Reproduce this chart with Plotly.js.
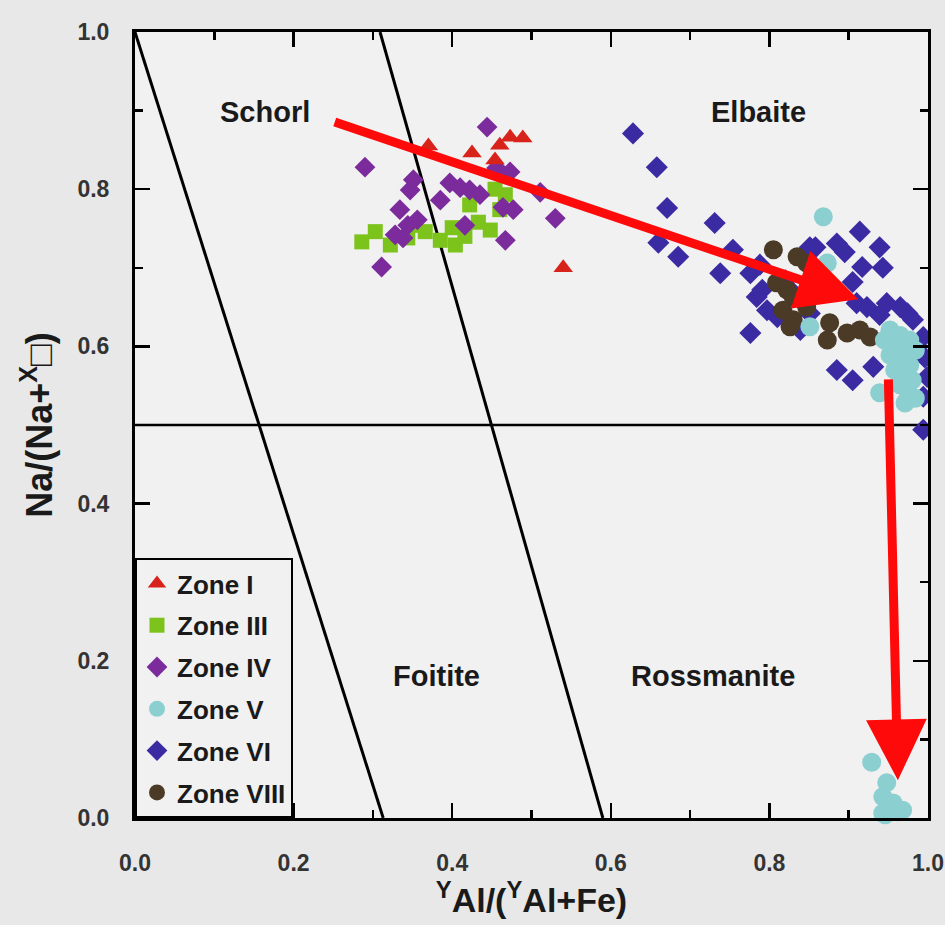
<!DOCTYPE html>
<html>
<head>
<meta charset="utf-8">
<script src="https://cdn.plot.ly/plotly-3.0.1.min.js"></script>
<style>html,body{margin:0;padding:0;background:#e8e8e8;}#chart{width:945px;height:925px;}</style>
</head>
<body>
<div id="chart"></div>
<script>
// ---- data ----
const zone1X = [0.370, 0.425, 0.454, 0.460, 0.473, 0.489, 0.540];
const zone1Y = [0.855, 0.846, 0.837, 0.856, 0.866, 0.865, 0.700];

const zone3X = [0.286, 0.303, 0.322, 0.344, 0.353, 0.366, 0.385, 0.400, 0.404, 0.416, 0.422, 0.433, 0.448, 0.454, 0.460, 0.467];
const zone3Y = [0.733, 0.746, 0.729, 0.738, 0.754, 0.746, 0.735, 0.751, 0.729, 0.740, 0.780, 0.758, 0.748, 0.800, 0.774, 0.793];

const zone4X = [0.290, 0.347, 0.351, 0.397, 0.410, 0.422, 0.435, 0.444, 0.456, 0.473, 0.464, 0.477, 0.416, 0.344, 0.356, 0.338, 0.467, 0.311, 0.530, 0.511, 0.328, 0.334, 0.385];
const zone4Y = [0.828, 0.799, 0.812, 0.808, 0.802, 0.799, 0.793, 0.879, 0.827, 0.822, 0.777, 0.774, 0.754, 0.754, 0.761, 0.738, 0.735, 0.701, 0.763, 0.796, 0.742, 0.774, 0.786];

const zone5X = [0.868, 0.873, 0.851, 0.952, 0.965, 0.977, 0.958, 0.971, 0.952, 0.965, 0.977, 0.958, 0.971, 0.980, 0.965, 0.975, 0.984, 0.971, 0.939, 0.945, 0.984,
                0.929, 0.948, 0.943, 0.956, 0.943, 0.968, 0.946, 0.962];
const zone5Y = [0.765, 0.706, 0.625, 0.621, 0.614, 0.608, 0.602, 0.595, 0.589, 0.583, 0.576, 0.570, 0.564, 0.557, 0.551, 0.542, 0.534, 0.528, 0.541, 0.608, 0.595,
                0.071, 0.045, 0.027, 0.019, 0.006, 0.010, 0.004, 0.008];

const zone6X = [0.628, 0.658, 0.671, 0.731, 0.660, 0.685, 0.738, 0.754, 0.776, 0.784, 0.797, 0.776, 0.858, 0.885, 0.895, 0.914, 0.939, 0.943, 0.917, 0.905,
                0.910, 0.923, 0.948, 0.965, 0.974, 0.981, 0.994, 0.996, 0.999, 0.994, 0.885, 0.905, 0.931, 0.994, 0.939, 0.851, 0.839, 0.791, 0.810, 0.851,
                0.826, 0.839, 0.864, 0.788, 0.820];
const zone6Y = [0.871, 0.828, 0.776, 0.757, 0.732, 0.714, 0.693, 0.723, 0.693, 0.663, 0.646, 0.617, 0.726, 0.731, 0.720, 0.746, 0.726, 0.700, 0.701, 0.682,
                0.655, 0.650, 0.655, 0.650, 0.642, 0.634, 0.612, 0.586, 0.561, 0.536, 0.570, 0.557, 0.574, 0.494, 0.640, 0.642, 0.621, 0.672, 0.637, 0.726,
                0.672, 0.659, 0.678, 0.704, 0.684];

const zone8X = [0.805, 0.835, 0.847, 0.809, 0.822, 0.830, 0.817, 0.830, 0.826, 0.876, 0.873, 0.898, 0.914, 0.927, 0.860, 0.847];
const zone8Y = [0.723, 0.714, 0.706, 0.681, 0.672, 0.663, 0.646, 0.634, 0.625, 0.630, 0.608, 0.617, 0.621, 0.612, 0.681, 0.650];

// field boundaries
const line1X = [0.0, 0.313];
const line1Y = [1.0, 0.0];
const line2X = [0.309, 0.590];
const line2Y = [1.0, 0.0];
const line3X = [0.0, 1.0];
const line3Y = [0.5, 0.5];

// field names
const fieldNames = ['Schorl', 'Elbaite', 'Foitite', 'Rossmanite'];
const fieldX = [0.164, 0.786, 0.380, 0.729];
const fieldY = [0.898, 0.898, 0.181, 0.181];

// trend arrows (tail -> head)
const arrowTailX = [0.250, 0.950];
const arrowTailY = [0.886, 0.560];
const arrowHeadX = [0.912, 0.962];
const arrowHeadY = [0.660, 0.048];

const tickVals = [0, 0.2, 0.4, 0.6, 0.8, 1.0];
const tickText = ['0.0', '0.2', '0.4', '0.6', '0.8', '1.0'];

// ---- chart ----
const FONT = 'Liberation Sans, Arial, sans-serif';
function zone(name, x, y, symbol, color, size, rank, extra) {
  return Object.assign({
    type: 'scatter', mode: 'markers', name: name, x: x, y: y,
    legendgroup: name, legendrank: rank,
    marker: {symbol: symbol, color: color, size: size, line: {width: 0}}
  }, extra || {});
}
function bline(x, y, w) {
  return {type: 'scatter', mode: 'lines', x: x, y: y, showlegend: false, hoverinfo: 'skip',
          line: {color: '#000', width: w}};
}

const traces = [
  bline(line1X, line1Y, 3),
  bline(line2X, line2Y, 3),
  bline(line3X, line3Y, 2.5),
  zone('Zone III', zone3X, zone3Y, 'square', '#7cc31c', 15, 2),
  zone('Zone IV', zone4X, zone4Y, 'diamond', '#7b2b9c', 16, 3),
  zone('Zone I', zone1X, zone1Y, 'triangle-up', '#d8231a', 17, 1),
  zone('Zone VI', zone6X, zone6Y, 'diamond', '#3b2ba3', 17, 5),
  zone('Zone VIII', zone8X, zone8Y, 'circle', '#4a3a26', 19, 6),
  zone('Zone V', zone5X, zone5Y, 'circle', '#8ccfd1', 19, 4, {cliponaxis: false})
];

const annotations = fieldNames.map((t, i) => ({
  text: t, x: fieldX[i], y: fieldY[i], xref: 'x', yref: 'y', showarrow: false,
  font: {family: FONT, size: 29, color: '#1a1a1a', weight: 'bold'}
}));
for (let i = 0; i < arrowTailX.length; i++) {
  annotations.push({
    x: arrowHeadX[i], y: arrowHeadY[i], ax: arrowTailX[i], ay: arrowTailY[i],
    xref: 'x', yref: 'y', axref: 'x', ayref: 'y', text: '', showarrow: true,
    arrowhead: 2, arrowsize: 1.35, arrowwidth: 9, arrowcolor: '#ff0a0a'
  });
}

const axisCommon = {
  range: [0, 1], tickvals: tickVals, ticktext: tickText,
  ticks: 'inside', ticklen: 15, tickwidth: 2.5, tickcolor: '#000',
  minor: {tickvals: [0.1, 0.3, 0.5, 0.7, 0.9], ticks: 'inside', ticklen: 8, tickwidth: 2.5, tickcolor: '#000'},
  showline: true, linecolor: '#000', linewidth: 3, mirror: 'allticks',
  showgrid: false, zeroline: false,
  tickfont: {family: FONT, size: 23, color: '#333', weight: 'bold'}
};

const layout = {
  width: 945, height: 925,
  margin: {l: 135, r: 17, t: 32, b: 107},
  paper_bgcolor: '#e8e8e8', plot_bgcolor: '#f1f1f1',
  showlegend: true,
  legend: {
    x: 0, y: 0, xanchor: 'left', yanchor: 'bottom',
    bgcolor: '#f1f1f1', bordercolor: '#000', borderwidth: 2,
    traceorder: 'grouped', tracegroupgap: 5,
    font: {family: FONT, size: 26, color: '#1a1a1a', weight: 'bold'},
    itemwidth: 30
  },
  xaxis: Object.assign({}, axisCommon, {
    ticklabelstandoff: 22,
    title: {text: '<sup>Y</sup>Al/(<sup>Y</sup>Al+Fe)', standoff: 4,
            font: {family: FONT, size: 34, color: '#1a1a1a', weight: 'bold'}}
  }),
  yaxis: Object.assign({}, axisCommon, {
    ticklabelstandoff: 18,
    title: {text: 'Na/(Na+<sup>X</sup>□)', standoff: 14,
            font: {family: FONT, size: 36, color: '#1a1a1a', weight: 'bold'}}
  }),
  annotations: annotations
};

Plotly.newPlot('chart', traces, layout, {displayModeBar: false, staticPlot: true});
</script>
</body>
</html>
